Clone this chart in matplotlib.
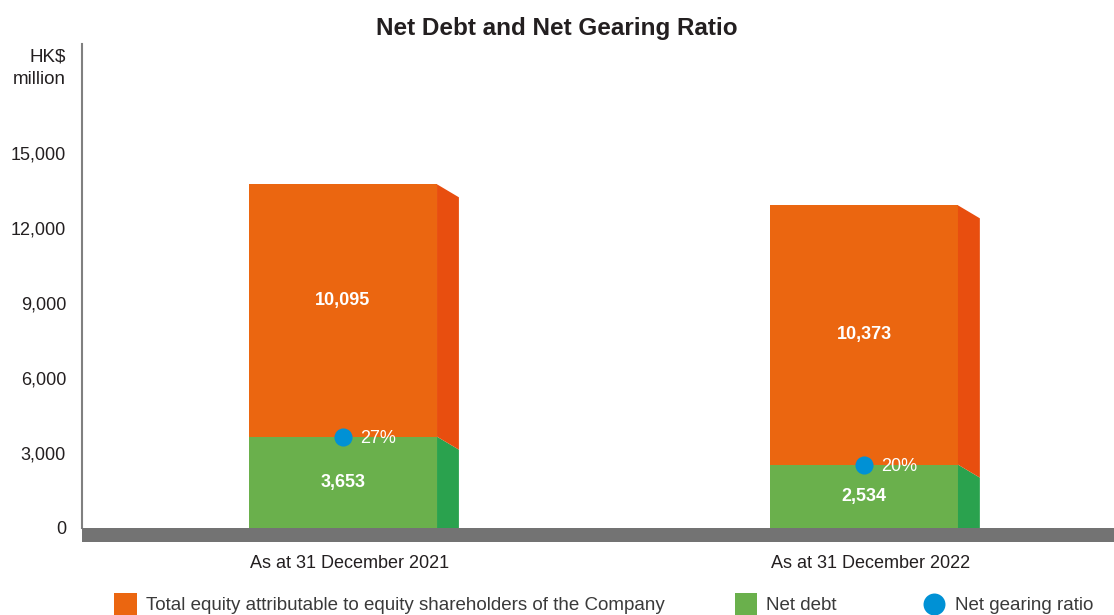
import matplotlib
matplotlib.use("Agg")
import matplotlib.pyplot as plt
from matplotlib.patches import Polygon, Rectangle
import numpy as np

# values in HK$ million
periods = ["As at 31 December 2021", "As at 31 December 2022"]
net_debt = [3653, 2534]
total_equity = [10095, 10373]
gearing = ["27%", "20%"]

legend_labels = ["Total equity attributable to equity shareholders of the Company",
                 "Net debt", "Net gearing ratio"]
yticks = [0, 3000, 6000, 9000, 12000, 15000]

ORANGE, ORANGE_SIDE = "#EB6610", "#E84E0F"
GREEN, GREEN_SIDE = "#6AB04C", "#2AA24E"
BLUE = "#0091D5"
BASE = "#737373"
TEXT = "#231F20"
FONT = ["Liberation Sans", "DejaVu Sans"]

W, H = 1114, 615
fig = plt.figure(figsize=(W / 100, H / 100), dpi=100)
# axes placed in pixels: left 82, right 1114, top 44, bottom 541.5
ax = fig.add_axes([82 / W, (H - 541.5) / H, (W - 82) / W, (541.5 - 44) / H])

x = np.arange(len(periods))
bw = 0.361          # bar width
depth = 0.042       # side face depth
slant = 520         # drop of side face top edge

for i in range(len(periods)):
    d, e = net_debt[i], total_equity[i]
    top = d + e
    x1 = x[i] + bw / 2
    ax.bar(x[i], d, bw, color=GREEN, zorder=2)
    ax.bar(x[i], e, bw, bottom=d, color=ORANGE, zorder=2)
    # side faces
    ax.add_patch(Polygon([(x1, d), (x1 + depth, d - slant), (x1 + depth, 0), (x1, 0)],
                         closed=True, color=GREEN_SIDE, zorder=2, lw=0))
    ax.add_patch(Polygon([(x1, top), (x1 + depth, top - slant), (x1 + depth, d - slant), (x1, d)],
                         closed=True, color=ORANGE_SIDE, zorder=2, lw=0))
    ax.text(x[i], d / 2, f"{d:,}", color="white", ha="center", va="center",
            fontsize=13, fontweight="bold", family=FONT, zorder=4)
    ax.text(x[i], d + e / 2 + (400 if i == 0 else 0), f"{e:,}", color="white",
            ha="center", va="center", fontsize=13, fontweight="bold", family=FONT, zorder=4)
    ax.scatter([x[i]], [d], s=170, color=BLUE, zorder=5, lw=0)
    ax.text(x[i] + 0.033, d - 80, gearing[i], color="white", ha="left", va="center",
            fontsize=13, family=FONT, zorder=5)

# grey base band
ax.add_patch(Rectangle((0, 0), 1, -540, transform=ax.get_yaxis_transform(),
                       color=BASE, lw=0, zorder=3, clip_on=False))

ax.set_xlim(-0.501, 1.480)
ax.set_ylim(-540, 19360)
ax.set_yticks(yticks)
ax.set_yticklabels([f"{v:,}" for v in yticks], family=FONT, fontsize=13, color=TEXT)
ax.tick_params(axis="y", length=0, pad=11.5)
ax.set_xticks(x + 0.012)
ax.set_xticklabels(periods, family=FONT, fontsize=13, color=TEXT)
ax.tick_params(axis="x", length=0, pad=10)
for s in ["top", "right", "bottom"]:
    ax.spines[s].set_visible(False)
ax.spines["left"].set_color("#808080")
ax.spines["left"].set_linewidth(1.5)
ax.spines["left"].set_bounds(0, 19360)

fig.text(66 / W, 1 - 68 / H, "HK$\nmillion", ha="right", va="center", family=FONT,
         fontsize=13.5, color=TEXT, linespacing=1.4)
fig.text(557 / W, 1 - 28 / H, "Net Debt and Net Gearing Ratio", ha="center", va="center",
         family=FONT, fontsize=17.5, fontweight="bold", color=TEXT)

# legend drawn by hand along the bottom edge
ly = 1 - 605 / H
fig.patches.append(Rectangle((114 / W, 1 - 616 / H), 23 / W, 23 / H, transform=fig.transFigure,
                             color=ORANGE, lw=0))
fig.text(146 / W, ly, legend_labels[0], ha="left", va="center", family=FONT,
         fontsize=13.5, color="#3A3A3A")
fig.patches.append(Rectangle((735 / W, 1 - 616 / H), 22 / W, 23 / H, transform=fig.transFigure,
                             color=GREEN, lw=0))
fig.text(766 / W, ly, legend_labels[1], ha="left", va="center", family=FONT,
         fontsize=13.5, color="#3A3A3A")
ax.scatter([934 / W], [1 - 604 / H], s=250, color=BLUE, lw=0, transform=fig.transFigure,
           clip_on=False)
fig.text(955 / W, ly, legend_labels[2], ha="left", va="center", family=FONT,
         fontsize=13.5, color="#3A3A3A")

fig.savefig("out.png", dpi=100)
